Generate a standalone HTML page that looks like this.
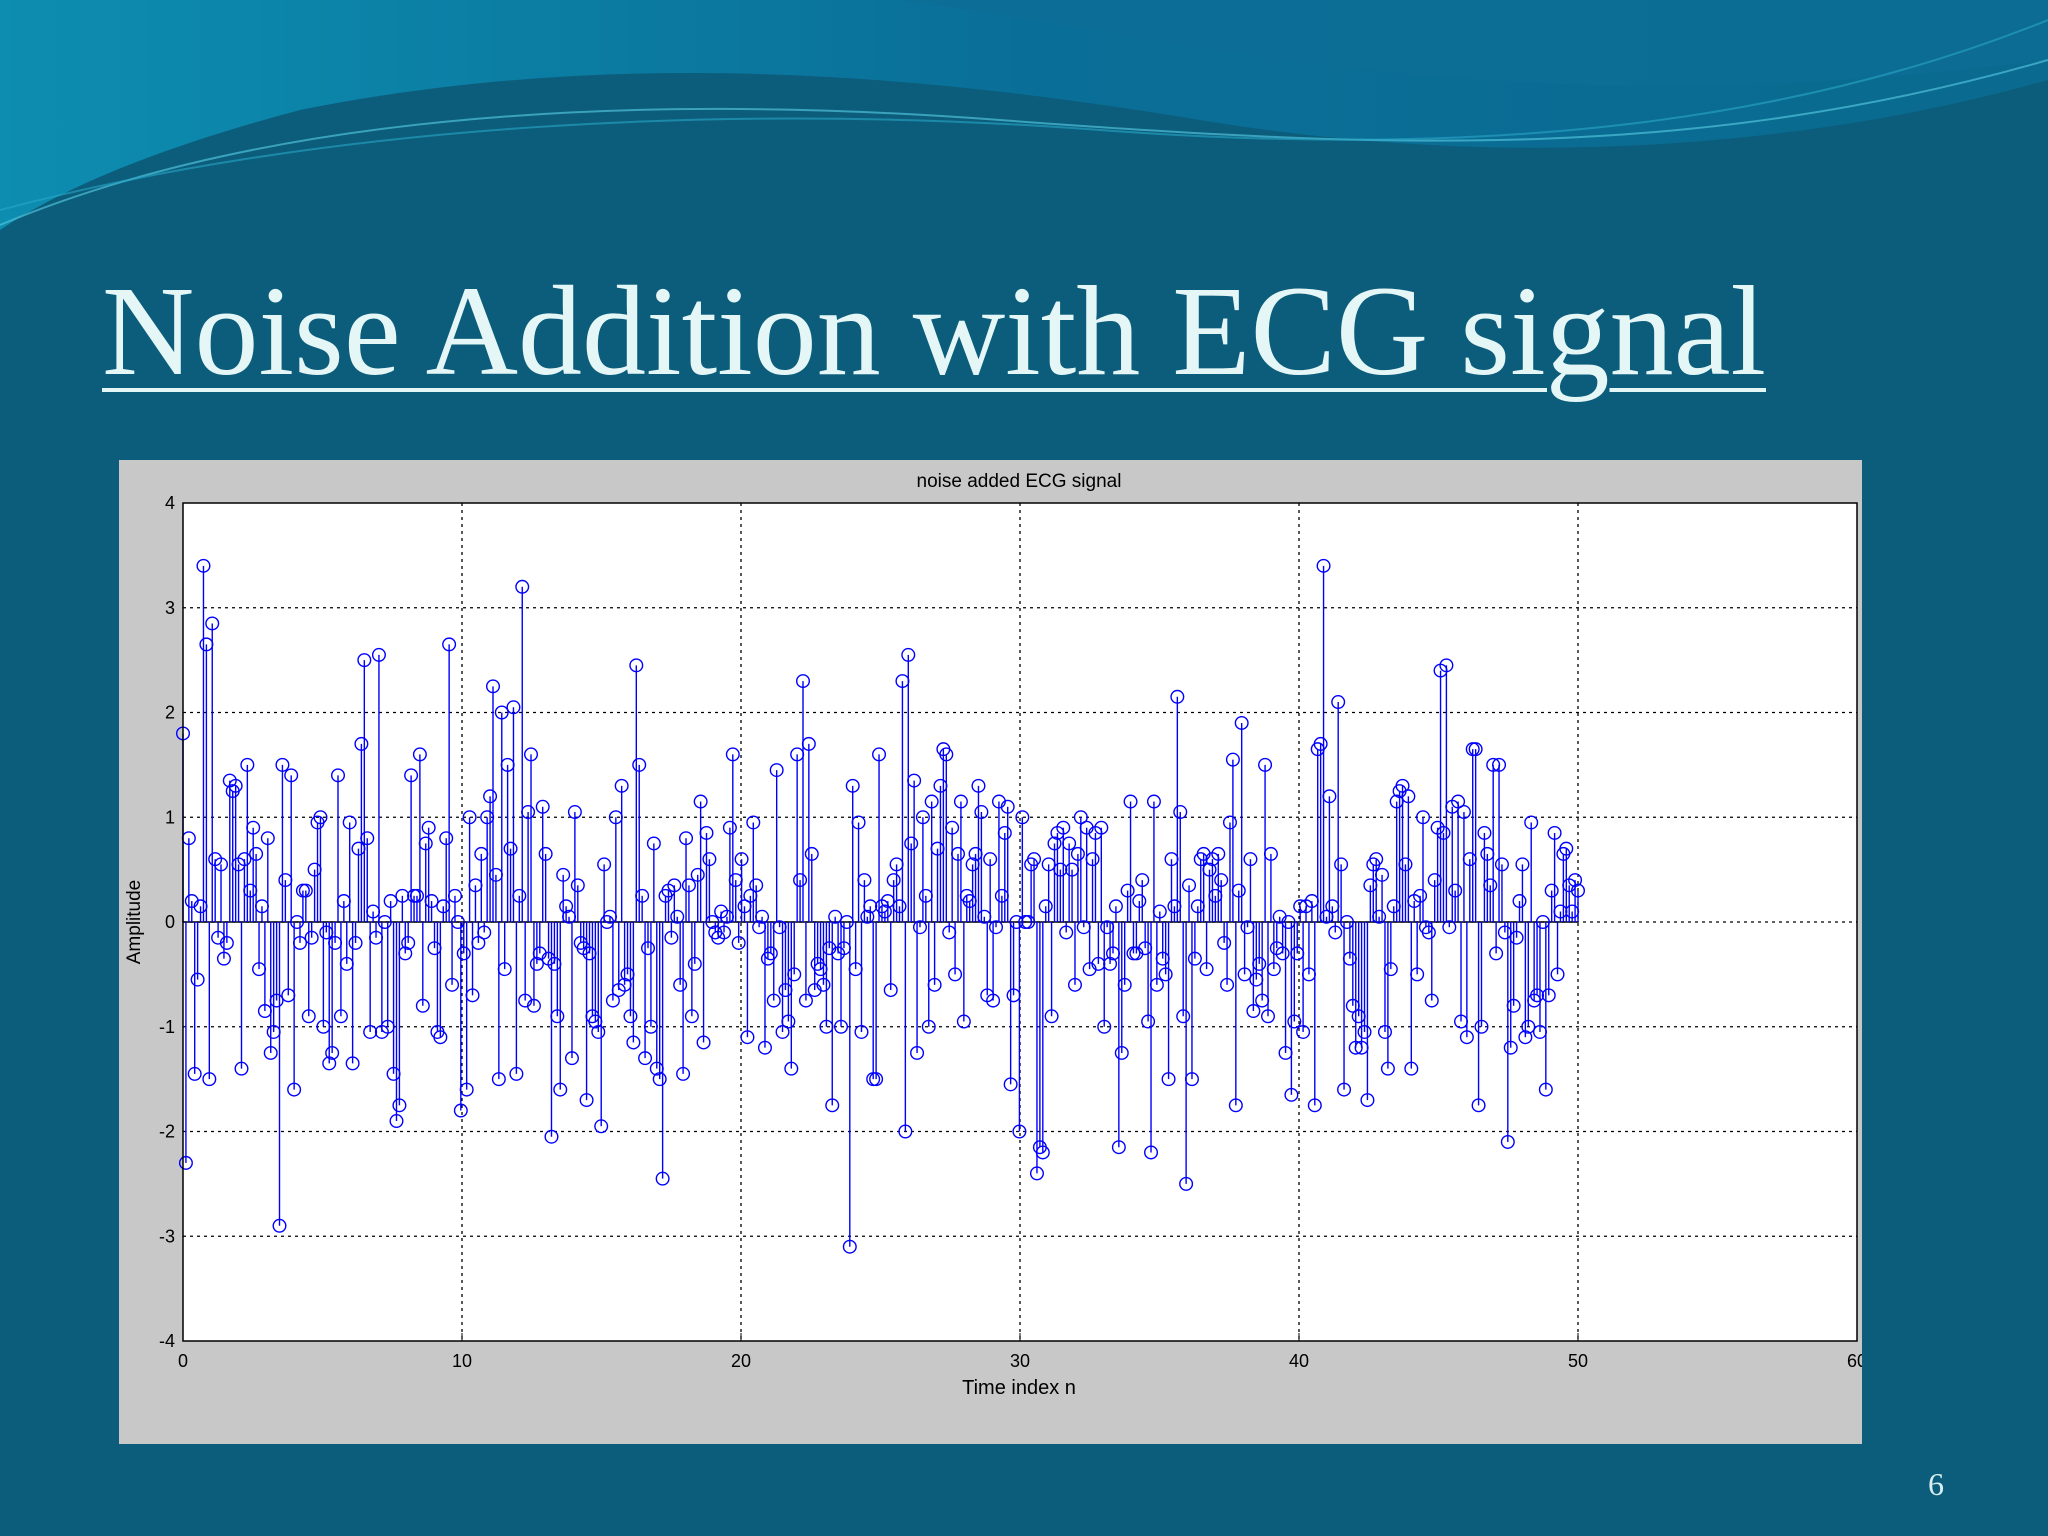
<!DOCTYPE html>
<html><head><meta charset="utf-8"><style>
html,body{margin:0;padding:0;}
body{width:2048px;height:1536px;overflow:hidden;background:#0b5d7b;position:relative;font-family:"Liberation Sans",sans-serif;}
#title{position:absolute;left:102px;top:258px;font-family:"Liberation Serif",serif;font-size:128px;color:#e4f6f6;text-decoration:underline;text-decoration-thickness:4px;text-underline-offset:14px;white-space:nowrap;}
#pnum{position:absolute;left:1928px;top:1466px;font-family:"Liberation Serif",serif;font-size:32px;color:#d8eef2;}
</style></head><body>
<svg width="2048" height="240" style="position:absolute;left:0;top:0">
<defs><linearGradient id="g1" x1="0" y1="0" x2="1" y2="0"><stop offset="0" stop-color="#0d8db0"/><stop offset="0.5" stop-color="#0a6f98"/><stop offset="1" stop-color="#0a6a8f"/></linearGradient></defs>
<rect width="2048" height="240" fill="#0b5d7b"/>
<path d="M0,0 H2048 V80 C1800,150 1500,170 1200,120 C900,70 600,50 300,110 C150,150 60,190 0,230 Z" fill="url(#g1)"/>
<path d="M900,0 C1200,40 1500,130 2048,60 V0 Z" fill="#0d6d96" opacity="0.7"/>
<path d="M0,225 C250,120 600,90 1000,120 C1400,150 1700,160 2048,60" stroke="#4fc0d8" stroke-width="2" fill="none" opacity="0.7"/>
<path d="M0,210 C300,130 700,100 1100,130 C1500,160 1800,120 2048,20" stroke="#2aa6c8" stroke-width="2" fill="none" opacity="0.6"/>
</svg>
<div id="title">Noise Addition with ECG signal</div>
<div id="pnum">6</div>
<svg id="chart" width="2048" height="1536" style="position:absolute;left:0;top:0"></svg>
<script>
const values=[
1.8,-2.3,0.8,0.2,-1.45,-0.55,0.15,3.4,2.65,-1.5,
2.85,0.6,-0.15,0.55,-0.35,-0.2,1.35,1.25,1.3,0.55,
-1.4,0.6,1.5,0.3,0.9,0.65,-0.45,0.15,-0.85,0.8,
-1.25,-1.05,-0.75,-2.9,1.5,0.4,-0.7,1.4,-1.6,0.0,
-0.2,0.3,0.3,-0.9,-0.15,0.5,0.95,1.0,-1.0,-0.1,
-1.35,-1.25,-0.2,1.4,-0.9,0.2,-0.4,0.95,-1.35,-0.2,
0.7,1.7,2.5,0.8,-1.05,0.1,-0.15,2.55,-1.05,0.0,
-1.0,0.2,-1.45,-1.9,-1.75,0.25,-0.3,-0.2,1.4,0.25,
0.25,1.6,-0.8,0.75,0.9,0.2,-0.25,-1.05,-1.1,0.15,
0.8,2.65,-0.6,0.25,0.0,-1.8,-0.3,-1.6,1.0,-0.7,
0.35,-0.2,0.65,-0.1,1.0,1.2,2.25,0.45,-1.5,2.0,
-0.45,1.5,0.7,2.05,-1.45,0.25,3.2,-0.75,1.05,1.6,
-0.8,-0.4,-0.3,1.1,0.65,-0.35,-2.05,-0.4,-0.9,-1.6,
0.45,0.15,0.05,-1.3,1.05,0.35,-0.2,-0.25,-1.7,-0.3,
-0.9,-0.95,-1.05,-1.95,0.55,0.0,0.05,-0.75,1.0,-0.65,
1.3,-0.6,-0.5,-0.9,-1.15,2.45,1.5,0.25,-1.3,-0.25,
-1.0,0.75,-1.4,-1.5,-2.45,0.25,0.3,-0.15,0.35,0.05,
-0.6,-1.45,0.8,0.35,-0.9,-0.4,0.45,1.15,-1.15,0.85,
0.6,0.0,-0.1,-0.15,0.1,-0.1,0.05,0.9,1.6,0.4,
-0.2,0.6,0.15,-1.1,0.25,0.95,0.35,-0.05,0.05,-1.2,
-0.35,-0.3,-0.75,1.45,-0.05,-1.05,-0.65,-0.95,-1.4,-0.5,
1.6,0.4,2.3,-0.75,1.7,0.65,-0.65,-0.4,-0.45,-0.6,
-1.0,-0.25,-1.75,0.05,-0.3,-1.0,-0.25,0.0,-3.1,1.3,
-0.45,0.95,-1.05,0.4,0.05,0.15,-1.5,-1.5,1.6,0.15,
0.1,0.2,-0.65,0.4,0.55,0.15,2.3,-2.0,2.55,0.75,
1.35,-1.25,-0.05,1.0,0.25,-1.0,1.15,-0.6,0.7,1.3,
1.65,1.6,-0.1,0.9,-0.5,0.65,1.15,-0.95,0.25,0.2,
0.55,0.65,1.3,1.05,0.05,-0.7,0.6,-0.75,-0.05,1.15,
0.25,0.85,1.1,-1.55,-0.7,0.0,-2.0,1.0,0.0,0.0,
0.55,0.6,-2.4,-2.15,-2.2,0.15,0.55,-0.9,0.75,0.85,
0.5,0.9,-0.1,0.75,0.5,-0.6,0.65,1.0,-0.05,0.9,
-0.45,0.6,0.85,-0.4,0.9,-1.0,-0.05,-0.4,-0.3,0.15,
-2.15,-1.25,-0.6,0.3,1.15,-0.3,-0.3,0.2,0.4,-0.25,
-0.95,-2.2,1.15,-0.6,0.1,-0.35,-0.5,-1.5,0.6,0.15,
2.15,1.05,-0.9,-2.5,0.35,-1.5,-0.35,0.15,0.6,0.65,
-0.45,0.5,0.6,0.25,0.65,0.4,-0.2,-0.6,0.95,1.55,
-1.75,0.3,1.9,-0.5,-0.05,0.6,-0.85,-0.55,-0.4,-0.75,
1.5,-0.9,0.65,-0.45,-0.25,0.05,-0.3,-1.25,0.0,-1.65,
-0.95,-0.3,0.15,-1.05,0.15,-0.5,0.2,-1.75,1.65,1.7,
3.4,0.05,1.2,0.15,-0.1,2.1,0.55,-1.6,0.0,-0.35,
-0.8,-1.2,-0.9,-1.2,-1.05,-1.7,0.35,0.55,0.6,0.05,
0.45,-1.05,-1.4,-0.45,0.15,1.15,1.25,1.3,0.55,1.2,
-1.4,0.2,-0.5,0.25,1.0,-0.05,-0.1,-0.75,0.4,0.9,
2.4,0.85,2.45,-0.05,1.1,0.3,1.15,-0.95,1.05,-1.1,
0.6,1.65,1.65,-1.75,-1.0,0.85,0.65,0.35,1.5,-0.3,
1.5,0.55,-0.1,-2.1,-1.2,-0.8,-0.15,0.2,0.55,-1.1,
-1.0,0.95,-0.75,-0.7,-1.05,0.0,-1.6,-0.7,0.3,0.85,
-0.5,0.1,0.65,0.7,0.35,0.1,0.4,0.3];
const xTicks=[0,10,20,30,40,50,60];
const yTicks=[4,3,2,1,0,-1,-2,-3,-4];
const xEnd=50;
const NS="http://www.w3.org/2000/svg";
const svg=document.getElementById('chart');
const L=183,R=1857,T=503,B=1341;
const sx=v=>L+(v-0)/(60-0)*(R-L);
const sy=v=>B-(v+4)/8*(B-T);
function mk(tag,at,parent){const e=document.createElementNS(NS,tag);for(const k in at)e.setAttribute(k,at[k]);(parent||svg).appendChild(e);return e;}
const fig=mk('rect',{x:119,y:460,width:1743,height:984,fill:'#c8c8c8'});


const ax=mk('rect',{x:L,y:T,width:R-L,height:B-T,fill:'#fff'});


const gg=mk('g',{stroke:'#000','stroke-width':1.3,'stroke-dasharray':'3,4'});


xTicks.forEach(t=>{if(t>0&&t<60)mk('line',{x1:sx(t),x2:sx(t),y1:T,y2:B},gg);});
yTicks.forEach(t=>{if(t>-4&&t<4)mk('line',{x1:L,x2:R,y1:sy(t),y2:sy(t)},gg);});
const base=mk('line',{x1:sx(0),x2:sx(xEnd),y1:sy(0),y2:sy(0),stroke:'#000','stroke-width':1.5});


const sg=mk('g',{stroke:'#0000ff','stroke-width':1.4,fill:'none'});


const dt=xEnd/(values.length-1);
values.forEach((v,i)=>{const x=sx(i*dt),y=sy(v);
 const ln=mk('line',{x1:x,x2:x,y1:sy(0),y2:y},sg);
 
 
 const c=mk('circle',{cx:x,cy:y,r:6.3},sg);
 
 
});
const fr=mk('rect',{x:L,y:T,width:R-L,height:B-T,fill:'none',stroke:'#000','stroke-width':1.5});


const tk=mk('g',{'font-family':'Liberation Sans, sans-serif','font-size':18,fill:'#000'});
xTicks.forEach(t=>{const tx=mk('text',{x:sx(t),y:1367,'text-anchor':'middle'},tk);tx.textContent=t;
 
 
 mk('line',{x1:sx(t),x2:sx(t),y1:B,y2:B-8,stroke:'#000'},tk);});
yTicks.forEach(t=>{const tx=mk('text',{x:175,y:sy(t)+6,'text-anchor':'end'},tk);tx.textContent=t;
 
 });
const cover=mk('rect',{x:1862,y:1340,width:30,height:40,fill:'#0b5d7b'});


const ti=mk('text',{x:1019,y:487,'text-anchor':'middle','font-size':19,'font-family':'Liberation Sans, sans-serif'});
ti.textContent='noise added ECG signal';


const xl=mk('text',{x:1019,y:1394,'text-anchor':'middle','font-size':20,'font-family':'Liberation Sans, sans-serif'});
xl.textContent='Time index n';


const yl=mk('text',{x:0,y:0,'text-anchor':'middle','font-size':19,'font-family':'Liberation Sans, sans-serif',transform:'translate(140,922) rotate(-90)'});
yl.textContent='Amplitude';


</script>
</body></html>
